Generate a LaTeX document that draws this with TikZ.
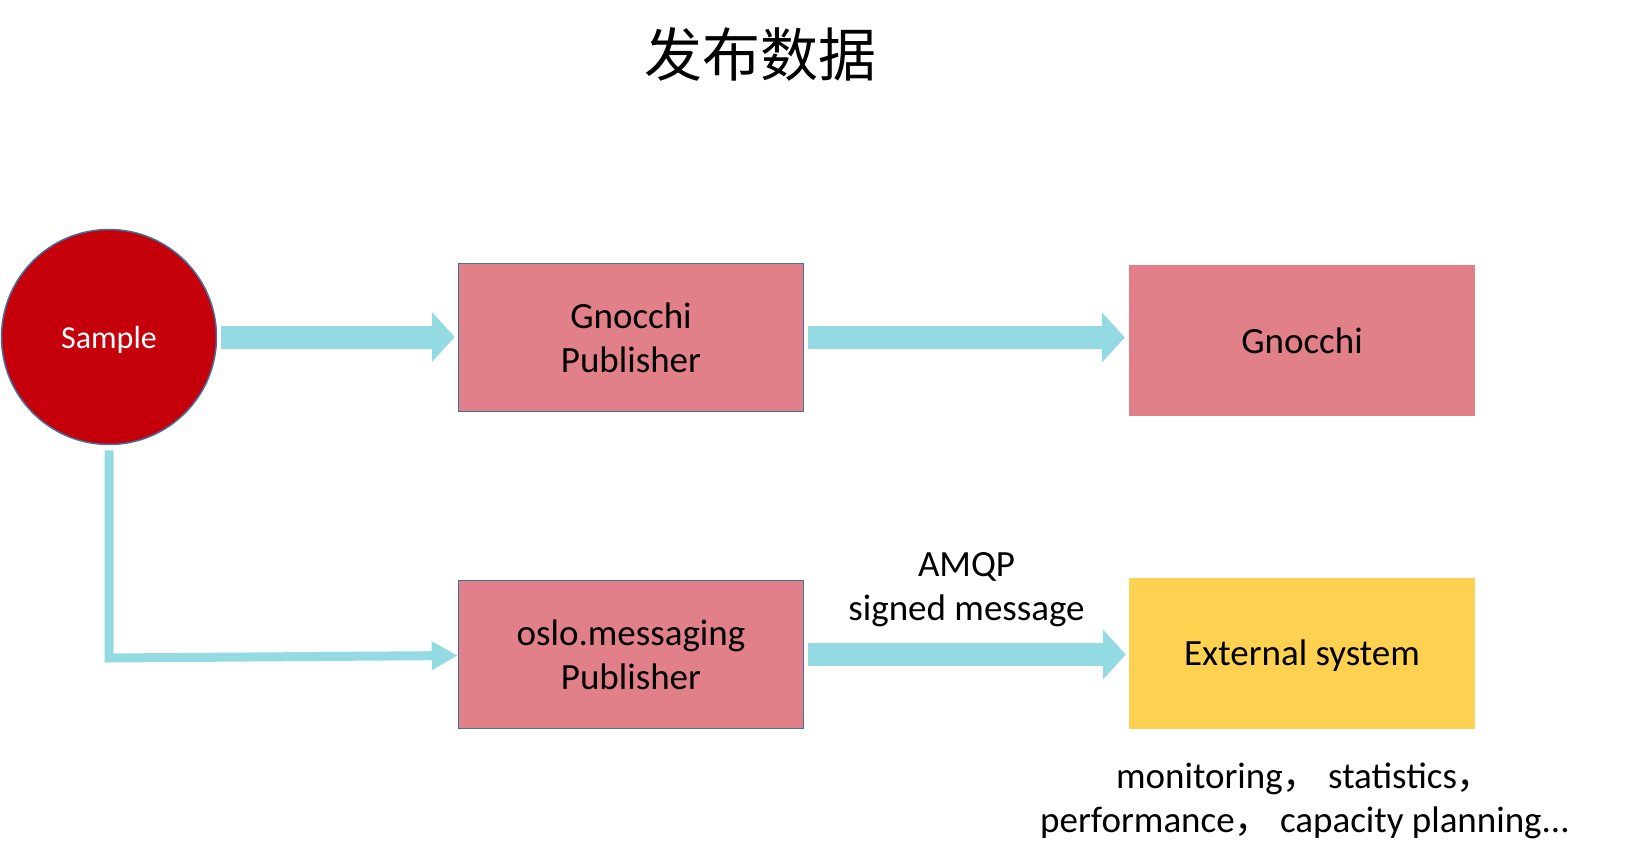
\documentclass[tikz,border=0pt]{standalone}
\usepackage{fontspec}
\setmainfont{Carlito}
\newfontfamily\cjk{Noto Sans CJK SC}
\usetikzlibrary{arrows.meta,calc,positioning}
\definecolor{samplered}{RGB}{197,0,11}
\definecolor{edgeblue}{RGB}{65,113,156}
\definecolor{boxpink}{RGB}{226,128,137}
\definecolor{extyellow}{RGB}{254,210,80}
\definecolor{flowcyan}{RGB}{147,218,226}
\tikzset{
  sample/.style={circle,draw=edgeblue,line width=1.5pt,fill=samplered,
    minimum size=215pt,inner sep=0pt,text=white,text depth=0pt,
    font=\fontsize{32}{38}\selectfont},
  pubbox/.style={rectangle,draw=edgeblue,line width=1.5pt,fill=boxpink,
    minimum width=345pt,minimum height=148pt,inner sep=0pt,align=center,
    font=\fontsize{37}{44}\selectfont},
  sinkbox/.style={rectangle,fill=#1,minimum width=346pt,minimum height=151pt,
    inner sep=0pt,text depth=0pt,font=\fontsize{37}{44}\selectfont},
  flow/.style={-{Triangle[length=23pt,width=49pt]},line width=23pt,flowcyan},
  thinflow/.style={-{Triangle[length=26pt,width=27pt]},line width=9pt,flowcyan},
  note/.style={align=center,inner sep=0pt,text=black,font=\fontsize{37}{44}\selectfont}
}
\begin{document}
\begin{tikzpicture}[x=1pt,y=-1pt]
  \useasboundingbox (0,0) rectangle (1645,864);
  \node[font=\cjk\fontsize{58}{64}\selectfont] (title) at (760,54) {发布数据};

  \node[sample] (samp) at (109,337) {Sample};
  \node[pubbox] (gpub) at (631,337.5) {Gnocchi\\Publisher};
  \node[pubbox] (opub) at (631,654.5) {oslo.messaging\\Publisher};
  \node[sinkbox=boxpink] (gno) at (1302,340.5) {Gnocchi};
  \node[sinkbox=extyellow] (ext) at (1302,653) {External system};
  \coordinate (bend) at (samp.south |- 0,658);

  \draw[flow,shorten <=4pt,shorten >=3pt] (samp.east) -- (samp.east -| gpub.west);
  \draw[flow,shorten <=4pt,shorten >=4pt] (gpub.east) -- (gpub.east -| gno.west);
  \draw[flow,shorten <=4pt,shorten >=3pt] (opub.east) -- node[note,above=16pt] {AMQP\\signed message} (opub.east -| ext.west);
  \draw[thinflow,shorten <=5pt] (samp.south) -- (bend) -- ($(opub.west)+(0,1)$);

  \node[note,anchor=north] (uses) at ($(ext.south)+(3,34)$)
    {monitoring{\cjk，}\ statistics{\cjk，}\\performance{\cjk，}\ capacity planning...};
\end{tikzpicture}
\end{document}
